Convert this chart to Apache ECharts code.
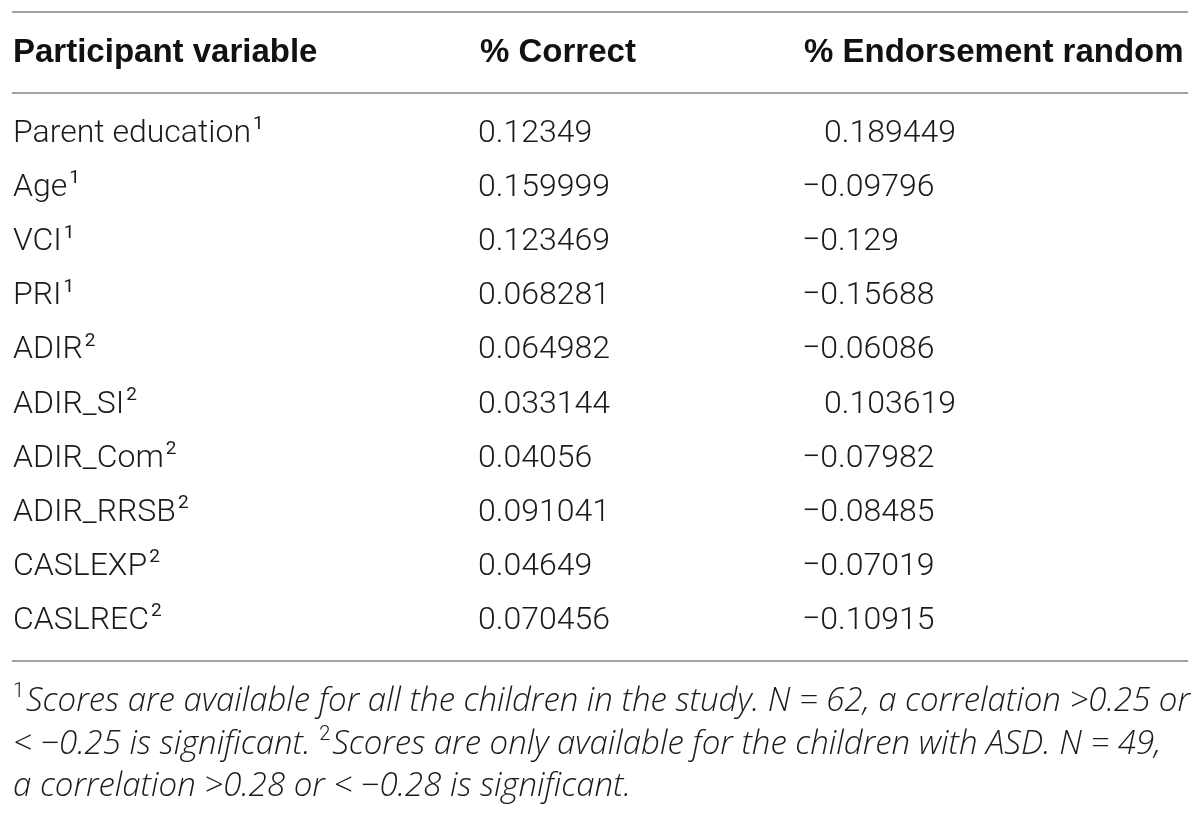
<!DOCTYPE html>
<html>
<head>
<meta charset="utf-8">
<script src="https://cdn.jsdelivr.net/npm/echarts@6/dist/echarts.min.js"></script>
<style>
  html, body { margin: 0; padding: 0; background: #fff; }
  #table { width: 1200px; height: 815px; }
</style>
</head>
<body>
<div id="table"></div>
<script>
  // table data
  var headers = ['Participant variable', '% Correct', '% Endorsement random'];
  var variables = ['Parent education', 'Age', 'VCI', 'PRI', 'ADIR', 'ADIR_SI', 'ADIR_Com', 'ADIR_RRSB', 'CASLEXP', 'CASLREC'];
  var noteMarks = [1, 1, 1, 1, 2, 2, 2, 2, 2, 2];
  var pctCorrect = [0.12349, 0.159999, 0.123469, 0.068281, 0.064982, 0.033144, 0.04056, 0.091041, 0.04649, 0.070456];
  var pctEndorseRandom = [0.189449, -0.09796, -0.129, -0.15688, -0.06086, 0.103619, -0.07982, -0.08485, -0.07019, -0.10915];
  var footnotes = [
    [['s', '1'], ['i', 'Scores are available for all the children in the study. N = 62, a correlation >0.25 or']],
    [['i', '< \u22120.25 is significant. '], ['s', '2'], ['i', 'Scores are only available for the children with ASD. N = 49,']],
    [['i', 'a correlation >0.28 or < \u22120.28 is significant.']]
  ];

  var COL_X = [13, 478, 802];
  var MINUS_W = 22;
  var BODY_FONT = 'Roboto, "Liberation Sans", sans-serif';
  var NOTE_FONT = '"Open Sans", Roboto, sans-serif';
  var RULE = '#a3a3a3';

  var fmt = function(v) {
    return v < 0 ? '\u2212' + String(-v) : String(v);
  };

  var chart = echarts.init(document.getElementById('table'), null, { renderer: 'canvas' });

  var rule = function(y) {
    return {
      type: 'line',
      shape: { x1: 12, y1: y, x2: 1188, y2: y },
      style: { stroke: RULE, lineWidth: 2 }
    };
  };

  var graphics = [rule(12), rule(93), rule(661)];
  headers.forEach(function(h, k) {
    graphics.push({
      type: 'text',
      x: COL_X[k] + (k === 0 ? 0 : 2),
      y: 53,
      style: {
        text: h,
        fontFamily: '"Liberation Sans", Arial, sans-serif',
        fontWeight: 'bold',
        fontSize: 33,
        fill: '#111',
        align: 'left',
        verticalAlign: 'middle'
      }
    });
  });
  footnotes.forEach(function(line, j) {
    graphics.push({
      type: 'text',
      x: 13,
      y: 702 + j * 42.5,
      style: {
        text: line.map(function(t) { return '{' + t[0] + '|' + t[1] + '}'; }).join(''),
        align: 'left',
        verticalAlign: 'middle',
        rich: {
          i: { fontFamily: NOTE_FONT, fontWeight: 300, fontStyle: 'italic', fontSize: 33, lineHeight: 40, fill: '#1a1a1a' },
          s: { fontFamily: BODY_FONT, fontWeight: 300, fontSize: 20, lineHeight: 20, verticalAlign: 'top', padding: [0, 2, 0, 0], fill: '#1a1a1a' }
        }
      }
    });
  });

  var rows = variables.map(function(name, i) {
    return [0, i, pctCorrect[i], pctEndorseRandom[i]];
  });

  var option = {
    animation: false,
    backgroundColor: '#fff',
    grid: { left: 0, right: 0, top: 107, bottom: 167 },
    xAxis: { type: 'value', min: 0, max: 1200, show: false },
    yAxis: { type: 'category', inverse: true, data: variables, show: false },
    graphic: graphics,
    series: [{
      type: 'custom',
      silent: true,
      encode: { x: 0, y: 1 },
      data: rows,
      renderItem: function(params, api) {
        var row = api.value(1);
        var y = api.coord([0, row])[1];
        var correct = api.value(2);
        var endorse = api.value(3);
        var base = { fontFamily: BODY_FONT, fontWeight: 300, fontSize: 32, fill: '#1a1a1a', align: 'left', verticalAlign: 'middle' };
        return {
          type: 'group',
          children: [{
            type: 'text',
            x: api.coord([COL_X[0], row])[0],
            y: y,
            style: {
              text: '{n|' + variables[row] + '}{s|' + noteMarks[row] + '}',
              align: 'left',
              verticalAlign: 'middle',
              rich: {
                n: { fontFamily: BODY_FONT, fontWeight: 300, fontSize: 32, lineHeight: 40, fill: '#1a1a1a' },
                s: { fontFamily: BODY_FONT, fontWeight: 400, fontSize: 19, lineHeight: 19, verticalAlign: 'top', padding: [1, 0, 0, 2], fill: '#1a1a1a' }
              }
            }
          }, {
            type: 'text',
            x: api.coord([COL_X[1], row])[0],
            y: y,
            style: Object.assign({ text: fmt(correct) }, base)
          }, {
            type: 'text',
            x: api.coord([COL_X[2] + (endorse < 0 ? 0 : MINUS_W), row])[0],
            y: y,
            style: Object.assign({ text: fmt(endorse) }, base)
          }]
        };
      }
    }]
  };

  chart.setOption(option);
</script>
</body>
</html>
